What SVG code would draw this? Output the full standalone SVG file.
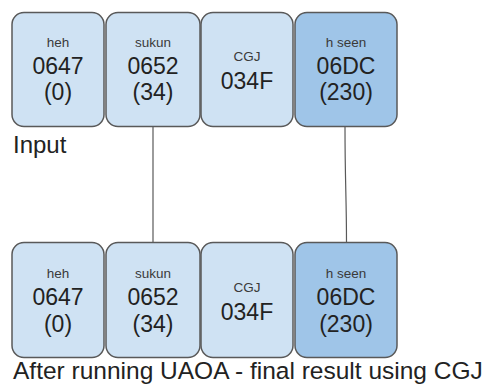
<svg xmlns="http://www.w3.org/2000/svg" width="488" height="387" viewBox="0 0 488 387">
<style>
.box{fill:#cfe2f3;stroke:#595959;stroke-width:1.5}
.dark{fill:#9fc5e8}
.sm{font-family:"Liberation Sans",Arial,sans-serif;font-size:13.5px;fill:#3a3a3a;text-anchor:middle}
.bg{font-family:"Liberation Sans",Arial,sans-serif;font-size:23px;fill:#222;text-anchor:middle}
.lbl{font-family:"Liberation Sans",Arial,sans-serif;font-size:24px;fill:#222}
.conn{fill:none;stroke:#595959;stroke-width:1.2}
</style>
<rect width="488" height="387" fill="#fff"/>
<g id="connectors">
<path class="conn" d="M153,127 L153,242"/>
<path class="conn" d="M345,127 C345,180 346.5,200 346.5,242"/>
</g>
<g id="top-heh"><rect class="box" x="12" y="12.5" width="92" height="114" rx="12"/><text class="sm" x="58" y="47">heh</text><text class="bg" x="58" y="74">0647</text><text class="bg" x="58" y="100">(0)</text></g>
<g id="top-sukun"><rect class="box" x="106" y="12.5" width="94" height="114" rx="12"/><text class="sm" x="153" y="47">sukun</text><text class="bg" x="153" y="74">0652</text><text class="bg" x="153" y="100">(34)</text></g>
<g id="top-cgj"><rect class="box" x="201" y="12.5" width="92" height="114" rx="12"/><text class="sm" x="247" y="61">CGJ</text><text class="bg" x="247" y="89">034F</text></g>
<g id="top-hseen"><rect class="box dark" x="295" y="12.5" width="102" height="114" rx="12"/><text class="sm" x="346" y="47">h seen</text><text class="bg" x="346" y="74">06DC</text><text class="bg" x="346" y="100">(230)</text></g>
<text id="input-label" class="lbl" x="13" y="153">Input</text>
<g id="bot-heh"><rect class="box" x="12" y="242.5" width="92" height="115" rx="12"/><text class="sm" x="58" y="278">heh</text><text class="bg" x="58" y="305">0647</text><text class="bg" x="58" y="332">(0)</text></g>
<g id="bot-sukun"><rect class="box" x="106" y="242.5" width="94" height="115" rx="12"/><text class="sm" x="153" y="278">sukun</text><text class="bg" x="153" y="305">0652</text><text class="bg" x="153" y="332">(34)</text></g>
<g id="bot-cgj"><rect class="box" x="201" y="242.5" width="92" height="115" rx="12"/><text class="sm" x="247" y="292">CGJ</text><text class="bg" x="247" y="320">034F</text></g>
<g id="bot-hseen"><rect class="box dark" x="295" y="242.5" width="102" height="115" rx="12"/><text class="sm" x="346" y="278">h seen</text><text class="bg" x="346" y="305">06DC</text><text class="bg" x="346" y="332">(230)</text></g>
<text id="result-label" class="lbl" x="13" y="379" style="font-size:24.5px">After running UAOA - final result using CGJ</text>
</svg>
